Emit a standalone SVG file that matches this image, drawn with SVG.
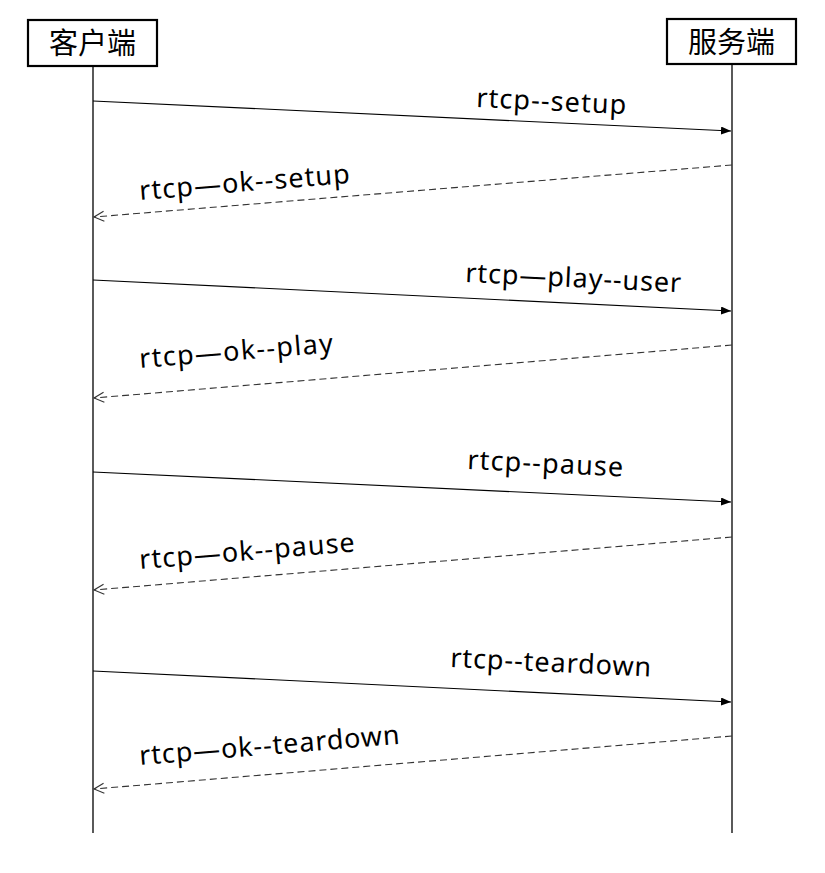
<svg xmlns="http://www.w3.org/2000/svg" width="825" height="873" viewBox="0 0 825 873">
<style>
.box{fill:#fff;stroke:#000;stroke-width:2.2}
.head{font-family:"Noto Sans CJK SC","Noto Sans",sans-serif;font-size:29px;fill:#000;text-anchor:middle}
.life{stroke:#000;stroke-width:1.3}
.msg{stroke:#000;stroke-width:1.1;fill:none}
.ret{stroke:#333;stroke-width:1.1;fill:none;stroke-dasharray:7 4}
.lbl{font-family:"Noto Sans","Liberation Sans",sans-serif;font-size:27px;fill:#000}
</style>
<defs>
<marker id="solid" markerWidth="12" markerHeight="10" refX="10" refY="4" orient="auto" markerUnits="userSpaceOnUse">
<path d="M0,0 L10,4 L0,8 Z" fill="#000"/>
</marker>
<marker id="open" markerWidth="14" markerHeight="14" refX="11" refY="6" orient="auto" markerUnits="userSpaceOnUse">
<path d="M1,1 L11,6 L1,11" fill="none" stroke="#333" stroke-width="1.1"/>
</marker>
</defs>
<rect width="825" height="873" fill="#fff"/>
<g id="client">
<line class="life" x1="93" y1="66" x2="93" y2="833"/>
<rect class="box" x="28" y="20" width="129" height="46"/>
<text class="head" x="92.5" y="54">客户端</text>
</g>
<g id="server">
<line class="life" x1="732" y1="64" x2="732" y2="833"/>
<rect class="box" x="667" y="19" width="129" height="45"/>
<text class="head" x="731.5" y="53">服务端</text>
</g>
<g id="connectors">
<line class="msg" x1="93" y1="101" x2="731" y2="131" marker-end="url(#solid)"/>
<line class="ret" x1="732" y1="165" x2="94" y2="217" marker-end="url(#open)"/>
<line class="msg" x1="93" y1="280" x2="731" y2="311" marker-end="url(#solid)"/>
<line class="ret" x1="732" y1="345" x2="94" y2="398" marker-end="url(#open)"/>
<line class="msg" x1="93" y1="472" x2="731" y2="502" marker-end="url(#solid)"/>
<line class="ret" x1="732" y1="537" x2="94" y2="590" marker-end="url(#open)"/>
<line class="msg" x1="93" y1="671" x2="731" y2="702" marker-end="url(#solid)"/>
<line class="ret" x1="732" y1="736" x2="94" y2="789" marker-end="url(#open)"/>
<text class="lbl" x="476" y="107" textLength="150" lengthAdjust="spacing" transform="rotate(2.7 476 107)">rtcp--setup</text>
<text class="lbl" x="140" y="200" textLength="211" lengthAdjust="spacing" transform="rotate(-4.65 140 200)">rtcp—ok--setup</text>
<text class="lbl" x="465" y="282" textLength="216" lengthAdjust="spacing" transform="rotate(2.7 465 282)">rtcp—play--user</text>
<text class="lbl" x="140" y="368" textLength="194" lengthAdjust="spacing" transform="rotate(-4.65 140 368)">rtcp—ok--play</text>
<text class="lbl" x="467" y="469" textLength="156" lengthAdjust="spacing" transform="rotate(2.7 467 469)">rtcp--pause</text>
<text class="lbl" x="140" y="569" textLength="216" lengthAdjust="spacing" transform="rotate(-4.65 140 569)">rtcp—ok--pause</text>
<text class="lbl" x="450" y="667" textLength="201" lengthAdjust="spacing" transform="rotate(2.7 450 667)">rtcp--teardown</text>
<text class="lbl" x="140" y="765" textLength="261" lengthAdjust="spacing" transform="rotate(-4.65 140 765)">rtcp—ok--teardown</text>
</g>
</svg>
